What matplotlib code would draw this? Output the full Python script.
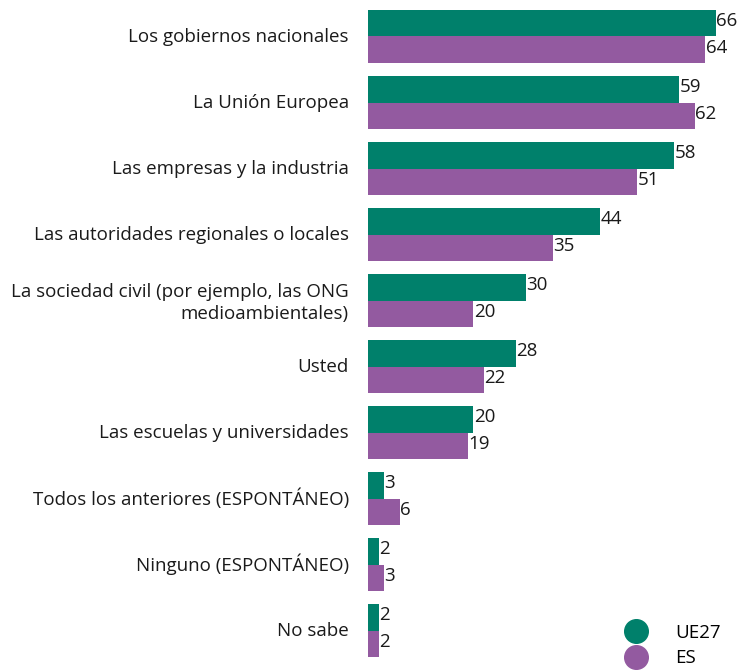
#!/usr/bin/env python3
'''Grouped horizontal bar chart: UE27 vs ES.'''

import matplotlib
matplotlib.use('Agg')
import matplotlib.pyplot as plt
from matplotlib.lines import Line2D
import numpy as np

categories = [
    'Los gobiernos nacionales',
    'La Unión Europea',
    'Las empresas y la industria',
    'Las autoridades regionales o locales',
    'La sociedad civil (por ejemplo, las ONG\nmedioambientales)',
    'Usted',
    'Las escuelas y universidades',
    'Todos los anteriores (ESPONTÁNEO)',
    'Ninguno (ESPONTÁNEO)',
    'No sabe',
]
ue27 = [66, 59, 58, 44, 30, 28, 20, 3, 2, 2]
es = [64, 62, 51, 35, 20, 22, 19, 6, 3, 2]
series_names = ['UE27', 'ES']

GREEN = '#00806B'
PURPLE = '#935AA0'
FS = 13.5

plt.rcParams['font.family'] = ['Open Sans', 'DejaVu Sans']

fig = plt.figure(figsize=(7.43, 6.70), dpi=100)
ax = fig.add_axes([368 / 743, 0, 369 / 743, 1])

y = np.arange(len(categories))
h = 0.40
ax.barh(y - h / 2, ue27, height=h, color=GREEN)
ax.barh(y + h / 2, es, height=h, color=PURPLE)

for yi, v in zip(y, ue27):
    ax.text(v + 0.1, yi - h / 2 - 0.03, str(v), va='center', ha='left', fontsize=FS, color='#1a1a1a')
for yi, v in zip(y, es):
    ax.text(v + 0.1, yi + h / 2 - 0.03, str(v), va='center', ha='left', fontsize=FS, color='#1a1a1a')

ax.set_xlim(0, 70)
ax.set_ylim(9.598, -0.553)
ax.set_yticks(y - 0.03)
ax.set_yticklabels(categories, fontsize=FS, color='#1a1a1a', linespacing=1.32)
ax.tick_params(axis='y', length=0, pad=13.7)
ax.set_xticks([])
for s in ax.spines.values():
    s.set_visible(False)

handles = [
    Line2D([], [], marker='o', linestyle='none', markersize=17, color=GREEN),
    Line2D([], [], marker='o', linestyle='none', markersize=17, color=PURPLE),
]
fig.legend(handles, series_names, loc='upper left', bbox_to_anchor=(0.8185, 0.083),
           frameon=False, fontsize=FS, borderpad=0, handletextpad=1.09,
           labelspacing=0.4)

plt.savefig('out.png', dpi=100)
